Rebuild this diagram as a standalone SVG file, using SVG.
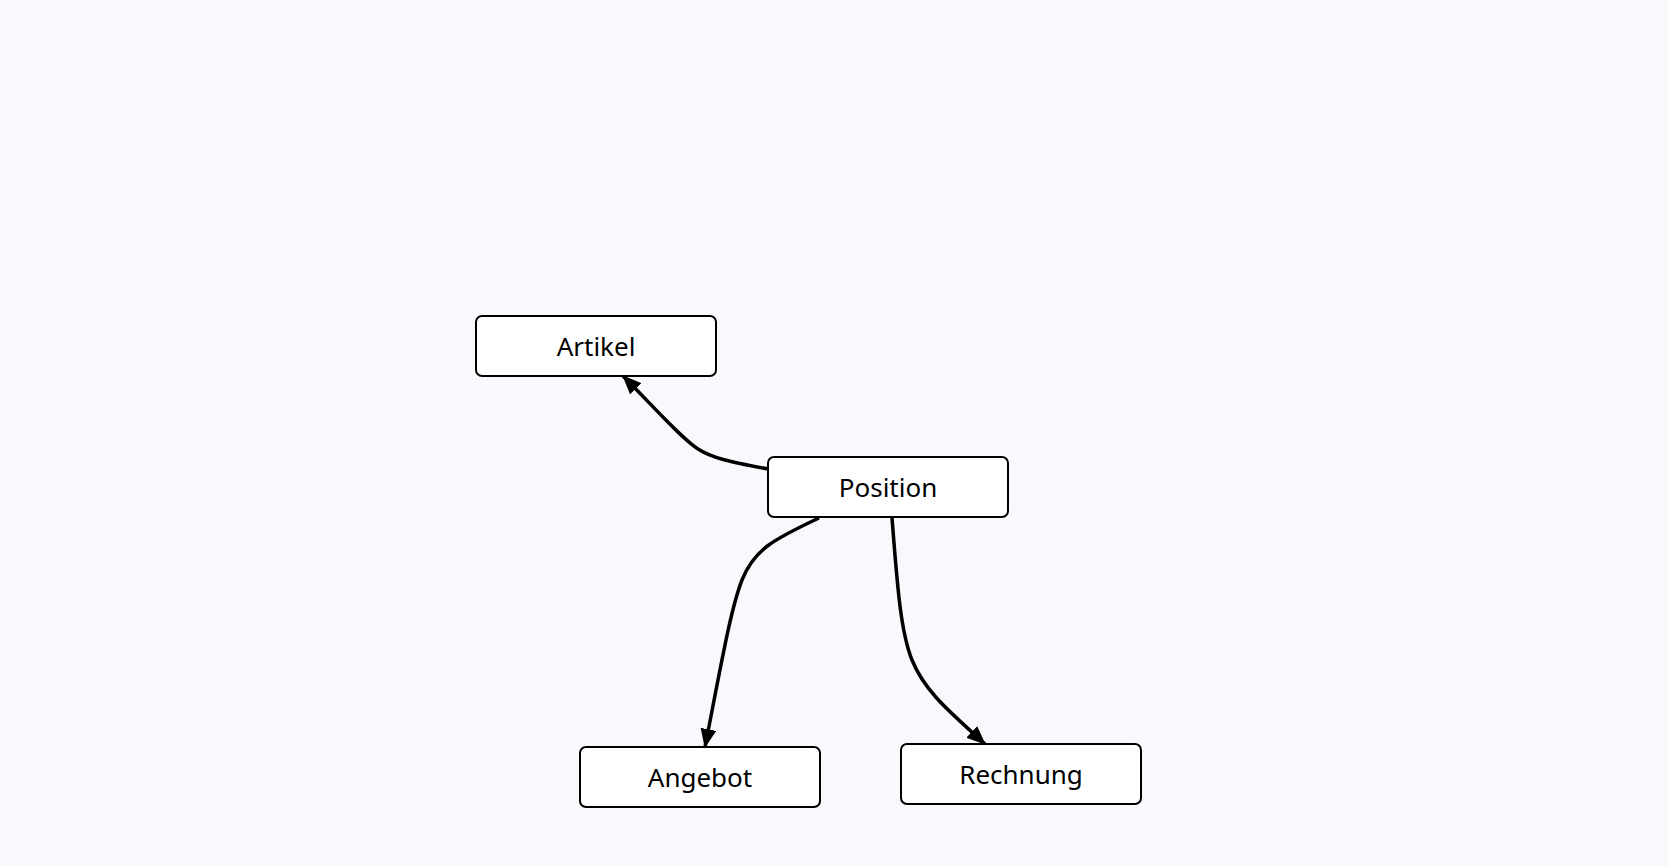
<svg xmlns="http://www.w3.org/2000/svg" width="1668" height="866" viewBox="0 0 1668 866">
<style>
.node rect{fill:#ffffff;stroke:#000000;stroke-width:2}
.node text{font-family:"Noto Sans","Open Sans",sans-serif;font-size:26px;fill:#000000;text-anchor:middle}
.edge{fill:none;stroke:#000000;stroke-width:3.5}
</style>
<defs>
<marker id="arrow" markerUnits="userSpaceOnUse" viewBox="0 0 19 16" markerWidth="19" markerHeight="16" refX="18" refY="8" orient="auto">
<path d="M0,0 L19,8 L0,16 Z" fill="#000000"/>
</marker>
</defs>
<rect x="0" y="0" width="1668" height="866" fill="#f9f9fd"/>
<g id="connectors">
<path class="edge" d="M768,469 C 730,462 712,458 698,449 C 680,437 655,408 623,376" marker-end="url(#arrow)"/>
<path class="edge" d="M819,518 C 772,540 754,550 742,580 C 731,608 722,660 705,747" marker-end="url(#arrow)"/>
<path class="edge" d="M892,518 C 897,580 900,630 912,660 C 925,692 950,712 985,744" marker-end="url(#arrow)"/>
</g>
<g id="node-artikel" class="node">
<rect x="476" y="316" width="240" height="60" rx="6"/>
<text x="596" y="356">Artikel</text>
</g>
<g id="node-position" class="node">
<rect x="768" y="457" width="240" height="60" rx="6"/>
<text x="888" y="497">Position</text>
</g>
<g id="node-angebot" class="node">
<rect x="580" y="747" width="240" height="60" rx="6"/>
<text x="700" y="787">Angebot</text>
</g>
<g id="node-rechnung" class="node">
<rect x="901" y="744" width="240" height="60" rx="6"/>
<text x="1021" y="784">Rechnung</text>
</g>
</svg>
